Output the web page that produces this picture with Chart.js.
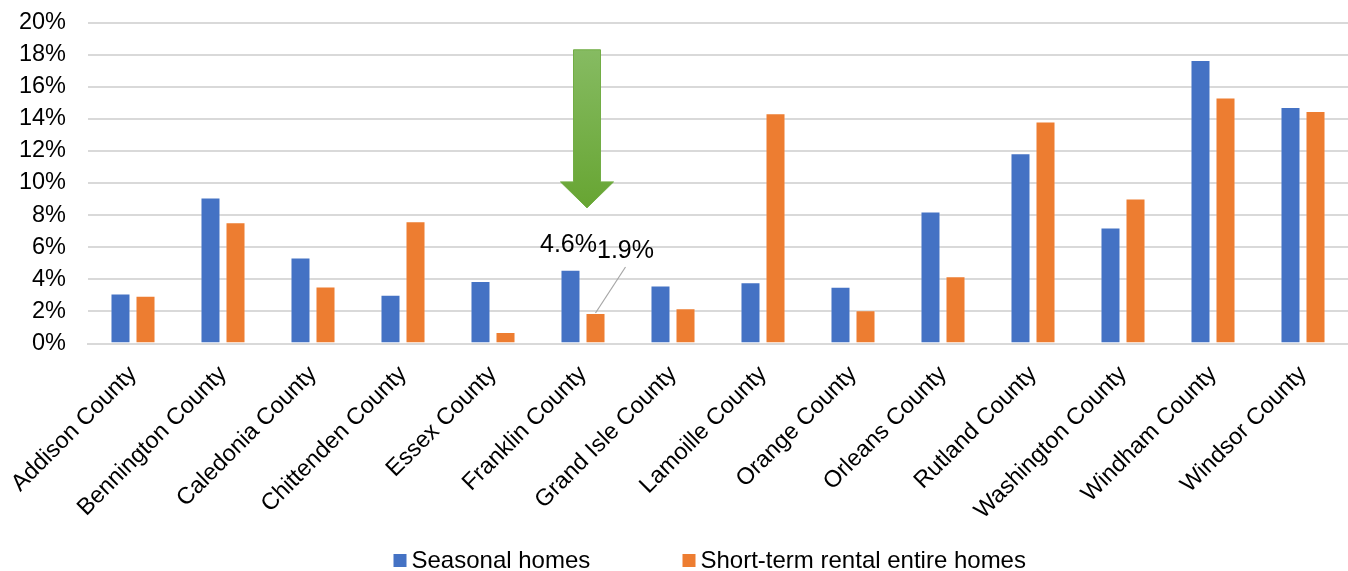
<!DOCTYPE html>
<html>
<head>
<meta charset="utf-8">
<script src="https://cdn.jsdelivr.net/npm/chart.js@4/dist/chart.umd.min.js"></script>
<style>
  html, body { margin: 0; padding: 0; background: #fff; }
  #wrap { width: 1348px; height: 571px; }
</style>
</head>
<body>
<div id="wrap"><canvas id="c" width="1348" height="571"></canvas></div>
<script>
// Vermont counties: share of housing units
const counties = [
  'Addison County', 'Bennington County', 'Caledonia County', 'Chittenden County',
  'Essex County', 'Franklin County', 'Grand Isle County', 'Lamoille County',
  'Orange County', 'Orleans County', 'Rutland County', 'Washington County',
  'Windham County', 'Windsor County'
];
const seasonalHomes = [3.12, 9.10, 5.36, 3.03, 3.90, 4.6, 3.61, 3.82, 3.53, 8.22, 11.86, 7.23, 17.67, 14.74];
const shortTermRentals = [2.97, 7.56, 3.55, 7.62, 0.72, 1.9, 2.20, 14.35, 2.07, 4.19, 13.83, 9.03, 15.33, 14.49];
const yTicks = [0, 2, 4, 6, 8, 10, 12, 14, 16, 18, 20];

// Highlighted county and the arrow span (in axis units)
const highlightIndex = 5;
const arrowTop = 18.3, arrowHeadStart = 10.07, arrowTip = 8.45;

const FONT = '"Liberation Sans", Arial, sans-serif';

// Legend row under the axis labels: box left edges, box top, text baseline
const legendBoxX = [393.5, 682.5];
const legendBoxTop = 554;
const legendBaseline = 567.5;

const calloutPlugin = {
  id: 'callout',
  afterDraw(chart) {
    const { ctx } = chart;
    ctx.save();
    ctx.font = '24px ' + FONT;
    ctx.textAlign = 'left';
    ctx.textBaseline = 'alphabetic';
    chart.data.datasets.forEach((ds, i) => {
      const bx = legendBoxX[i];
      ctx.fillStyle = ds.backgroundColor;
      ctx.fillRect(bx, legendBoxTop, 13, 13);
      ctx.fillStyle = '#000';
      ctx.fillText(ds.label, bx + 18, legendBaseline);
    });
    ctx.restore();
  },
  afterDatasetsDraw(chart) {
    const { ctx, scales } = chart;
    const x = scales.x, y = scales.y;
    const cx = x.getPixelForValue(highlightIndex) + 4;

    // green down arrow
    const yTop = y.getPixelForValue(arrowTop);
    const yHead = y.getPixelForValue(arrowHeadStart);
    const yTip = y.getPixelForValue(arrowTip);
    const shaftHalf = 13.5, headHalf = 26.5;
    const grad = ctx.createLinearGradient(0, yTop, 0, yTip);
    grad.addColorStop(0, '#86bb62');
    grad.addColorStop(1, '#67a532');
    ctx.save();
    ctx.beginPath();
    ctx.moveTo(cx - shaftHalf, yTop);
    ctx.lineTo(cx + shaftHalf, yTop);
    ctx.lineTo(cx + shaftHalf, yHead);
    ctx.lineTo(cx + headHalf, yHead);
    ctx.lineTo(cx, yTip);
    ctx.lineTo(cx - headHalf, yHead);
    ctx.lineTo(cx - shaftHalf, yHead);
    ctx.closePath();
    ctx.fillStyle = grad;
    ctx.fill();
    ctx.lineWidth = 1;
    ctx.strokeStyle = '#72ad45';
    ctx.stroke();
    ctx.restore();

    // value labels for the highlighted county
    const blue = chart.getDatasetMeta(0).data[highlightIndex];
    const orange = chart.getDatasetMeta(1).data[highlightIndex];
    ctx.save();
    ctx.font = '25px ' + FONT;
    ctx.fillStyle = '#000';
    ctx.textAlign = 'center';
    ctx.textBaseline = 'alphabetic';
    ctx.fillText(seasonalHomes[highlightIndex].toFixed(1) + '%', blue.x - 2, blue.y - 18);

    const lx = orange.x + 30, ly = orange.y - 55;
    ctx.strokeStyle = '#a6a6a6';
    ctx.lineWidth = 1.2;
    ctx.beginPath();
    ctx.moveTo(lx, orange.y - 46);
    ctx.lineTo(orange.x, orange.y);
    ctx.stroke();
    ctx.fillText(shortTermRentals[highlightIndex].toFixed(1) + '%', lx, ly);
    ctx.restore();
  }
};

new Chart(document.getElementById('c'), {
  type: 'bar',
  data: {
    labels: counties,
    datasets: [
      {
        label: 'Seasonal homes',
        data: seasonalHomes,
        backgroundColor: '#4472c4',
        borderColor: 'rgba(255,255,255,0.35)',
        borderWidth: 1,
        barPercentage: 0.8,
        categoryPercentage: 0.556
      },
      {
        label: 'Short-term rental entire homes',
        data: shortTermRentals,
        backgroundColor: '#ed7d31',
        borderColor: 'rgba(255,255,255,0.35)',
        borderWidth: 1,
        barPercentage: 0.8,
        categoryPercentage: 0.556
      }
    ]
  },
  options: {
    responsive: false,
    animation: false,
    layout: { padding: { top: 0, right: 0, bottom: 47.5, left: 0 } },
    plugins: {
      tooltip: { enabled: false },
      legend: { display: false }
    },
    scales: {
      x: {
        grid: { display: false, drawTicks: false },
        border: { display: true, color: '#d9d9d9', width: 2 },
        ticks: {
          font: { family: FONT, size: 23.5 },
          color: '#000',
          minRotation: 45,
          maxRotation: 45,
          autoSkip: false,
          padding: 17
        },
        afterFit(scale) {
          scale.height = 180;
          scale.paddingLeft = 0;
          scale.paddingRight = 0;
        }
      },
      y: {
        min: 0,
        max: 20,
        afterBuildTicks(scale) { scale.ticks = yTicks.map(v => ({ value: v })); },
        grid: { color: '#d9d9d9', lineWidth: 2, drawTicks: false },
        border: { display: false },
        ticks: {
          font: { family: FONT, size: 23.5 },
          color: '#000',
          padding: 22,
          autoSkip: false,
          callback: v => v + '%'
        },
        afterFit(scale) {
          scale.width = 88;
          scale.paddingTop = 22.5;
          scale.paddingBottom = 0;
        }
      }
    }
  },
  plugins: [calloutPlugin]
});
</script>
</body>
</html>
